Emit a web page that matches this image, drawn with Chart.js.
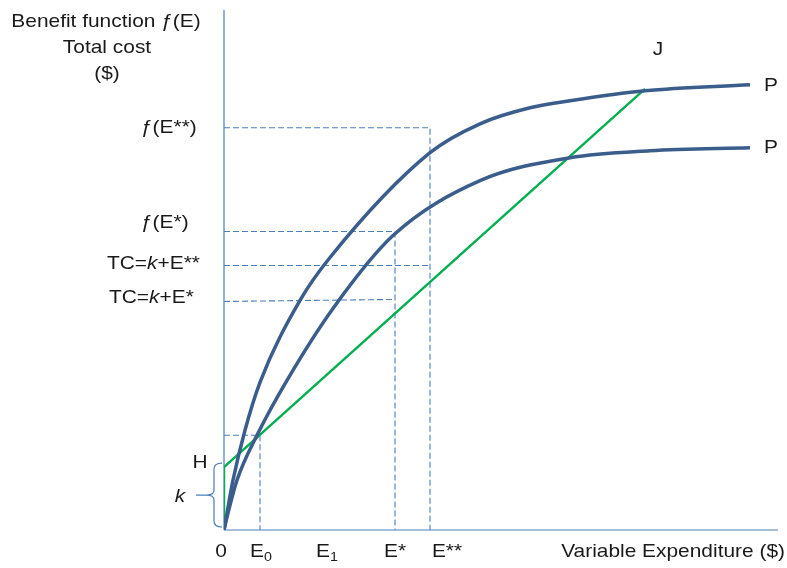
<!DOCTYPE html>
<html>
<head>
<meta charset="utf-8">
<script src="https://cdn.jsdelivr.net/npm/chart.js@4.4.1/dist/chart.umd.min.js"></script>
<style>
  html, body { margin: 0; padding: 0; background: #fff; }
  canvas { display: block; }
</style>
</head>
<body>
<canvas id="chart" width="787" height="568"></canvas>
<script>
// benefit curves (x = variable expenditure, y = $)
const upperCurveX = [0, 3, 9, 21, 36, 76, 106, 206, 256, 306, 346, 421, 526];
const upperCurveY = [0, 17, 50, 100, 148, 230, 273, 378, 407, 423, 430, 440, 446];
const lowerCurveX = [0, 4, 13, 33, 63, 109, 169, 256, 346, 426, 526];
const lowerCurveY = [0, 17, 50, 95, 150, 222, 295, 350, 373, 380, 383];
// total cost line: H = k, then up to J
const costLineX = [0, 0, 421];
const costLineY = [0, 63, 442];

// guide values
const eZero = 36, eStar = 171, eStar2 = 206;
const fE0 = 95, fEStar = 299, fEStar2 = 403, tcStar = 229, tcStar2 = 265;

const xTickLabels = ['0', 'E0', 'E1', 'E*', 'E**'];
const xTickValues = [-3, 37, 103, 171, 223];
const xMax = 554, yMax = 521;

const blue = '#4A7EBB';
const curveColor = '#3A5D8C';
const green = '#00B050';

function pts(xs, ys) { return xs.map((x, i) => ({ x: x, y: ys[i] })); }

function dashed(data) {
    return { data: data, borderColor: blue, borderWidth: 1.1, borderDash: [6, 3], pointRadius: 0, showLine: true, clip: false, order: 5 };
}

const datasets = [
    { data: pts(upperCurveX, upperCurveY), borderColor: curveColor, borderWidth: 3.5, pointRadius: 0, showLine: true, cubicInterpolationMode: 'monotone', order: 1 },
    { data: pts(lowerCurveX, lowerCurveY), borderColor: curveColor, borderWidth: 3.5, pointRadius: 0, showLine: true, cubicInterpolationMode: 'monotone', order: 1 },
    { data: pts(costLineX, costLineY), borderColor: green, borderWidth: 2.4, pointRadius: 0, showLine: true, order: 2 },
    { data: [{ x: 0, y: 0 }, { x: 0, y: yMax }], borderColor: blue, borderWidth: 1.2, pointRadius: 0, showLine: true, clip: false, order: 3 },
    { data: [{ x: 0, y: 0 }, { x: xMax, y: 0 }], borderColor: blue, borderWidth: 1.2, pointRadius: 0, showLine: true, clip: false, order: 3 },
    dashed([{ x: 0, y: fEStar2 }, { x: eStar2, y: fEStar2 }, { x: eStar2, y: 0 }]),
    dashed([{ x: 0, y: fEStar }, { x: eStar, y: fEStar }, { x: eStar, y: 0 }]),
    dashed([{ x: 0, y: tcStar2 }, { x: eStar2, y: tcStar2 }]),
    dashed([{ x: 0, y: tcStar }, { x: eStar, y: tcStar + 2 }]),
    dashed([{ x: 0, y: fE0 }, { x: eZero, y: fE0 }, { x: eZero, y: 0 }])
];

const FONT = '"Liberation Sans", Arial, sans-serif';
const SIZE = 19;
const SX = 1.1; // text in the picture is a little wide

function fontFor(style) {
    if (style === 'i') return 'italic ' + SIZE + 'px ' + FONT;
    if (style === 'sub') return Math.round(SIZE * 0.7) + 'px ' + FONT;
    return SIZE + 'px ' + FONT;
}
// parts: [text, style] with style n / i / sub
function richWidth(ctx, parts) {
    let w = 0;
    parts.forEach(p => {
        ctx.font = fontFor(p[1]);
        w += ctx.measureText(p[0]).width * SX;
    });
    return w;
}
function drawRich(ctx, parts, x, y, align) {
    const w = richWidth(ctx, parts);
    let cx = align === 'center' ? x - w / 2 : (align === 'right' ? x - w : x);
    ctx.textBaseline = 'middle';
    ctx.textAlign = 'left';
    parts.forEach(p => {
        ctx.font = fontFor(p[1]);
        ctx.save();
        ctx.translate(cx, p[1] === 'sub' ? y + 5 : y);
        ctx.scale(SX, 1);
        ctx.fillText(p[0], 0, 0);
        ctx.restore();
        cx += ctx.measureText(p[0]).width * SX;
    });
}

const labelsPlugin = {
    id: 'labels',
    afterDraw(chart) {
        const ctx = chart.ctx;
        const xs = chart.scales.x, ys = chart.scales.y;
        const X = v => xs.getPixelForValue(v), Y = v => ys.getPixelForValue(v);
        ctx.save();
        ctx.fillStyle = '#1a1a1a';

        drawRich(ctx, [['Benefit function ', 'n'], ['ƒ', 'n'], ['(E)', 'n']], 106, 22, 'center');
        drawRich(ctx, [['Total cost', 'n']], 107, 48, 'center');
        drawRich(ctx, [['($)', 'n']], 107, 74, 'center');

        drawRich(ctx, [['ƒ', 'n'], ['(E**)', 'n']], 141, Y(fEStar2), 'left');
        drawRich(ctx, [['ƒ', 'n'], ['(E*)', 'n']], 141, Y(fEStar) - 9, 'left');
        drawRich(ctx, [['TC=', 'n'], ['k', 'i'], ['+E**', 'n']], 107, Y(tcStar2) - 2, 'left');
        drawRich(ctx, [['TC=', 'n'], ['k', 'i'], ['+E*', 'n']], 109, Y(tcStar) - 4, 'left');

        drawRich(ctx, [['H', 'n']], 200, Y(costLineY[1]) - 4, 'center');
        drawRich(ctx, [['k', 'i']], 180, Y(33), 'center');

        const ty = Y(0) + 22;
        xTickLabels.forEach((t, i) => {
            let parts;
            if (t === 'E0' || t === 'E1') parts = [['E', 'n'], [t.slice(1), 'sub']];
            else parts = [[t, 'n']];
            drawRich(ctx, parts, X(xTickValues[i]), ty, 'center');
        });
        drawRich(ctx, [['Variable Expenditure ($)', 'n']], 785, ty, 'right');

        drawRich(ctx, [['J', 'n']], X(costLineX[2]) + 13, 50, 'center');
        drawRich(ctx, [['P', 'n']], X(upperCurveX[upperCurveX.length - 1]) + 21, Y(upperCurveY[upperCurveY.length - 1]) + 1, 'center');
        drawRich(ctx, [['P', 'n']], X(lowerCurveX[lowerCurveX.length - 1]) + 21, Y(lowerCurveY[lowerCurveY.length - 1]), 'center');

        // brace for k
        const top = Y(costLineY[1]) - 4, bot = Y(0) - 3, mid = (top + bot) / 2;
        ctx.strokeStyle = blue;
        ctx.lineWidth = 1.2;
        ctx.beginPath();
        ctx.moveTo(222, top);
        ctx.quadraticCurveTo(214, top, 214, top + 6);
        ctx.lineTo(214, mid - 5);
        ctx.quadraticCurveTo(214, mid, 207, mid);
        ctx.quadraticCurveTo(214, mid, 214, mid + 5);
        ctx.lineTo(214, bot - 6);
        ctx.quadraticCurveTo(214, bot, 222, bot);
        ctx.moveTo(207, mid);
        ctx.lineTo(196, mid);
        ctx.stroke();
        ctx.restore();
    }
};

new Chart(document.getElementById('chart').getContext('2d'), {
    type: 'scatter',
    data: { datasets: datasets },
    options: {
        responsive: false,
        animation: false,
        devicePixelRatio: 1,
        layout: { padding: { left: 224, right: 8, top: 9, bottom: 38 } },
        scales: {
            x: { type: 'linear', min: 0, max: xMax + 1, display: false },
            y: { type: 'linear', min: 0, max: yMax + 1, display: false }
        },
        plugins: { legend: { display: false }, tooltip: { enabled: false } }
    },
    plugins: [labelsPlugin]
});
</script>
</body>
</html>
